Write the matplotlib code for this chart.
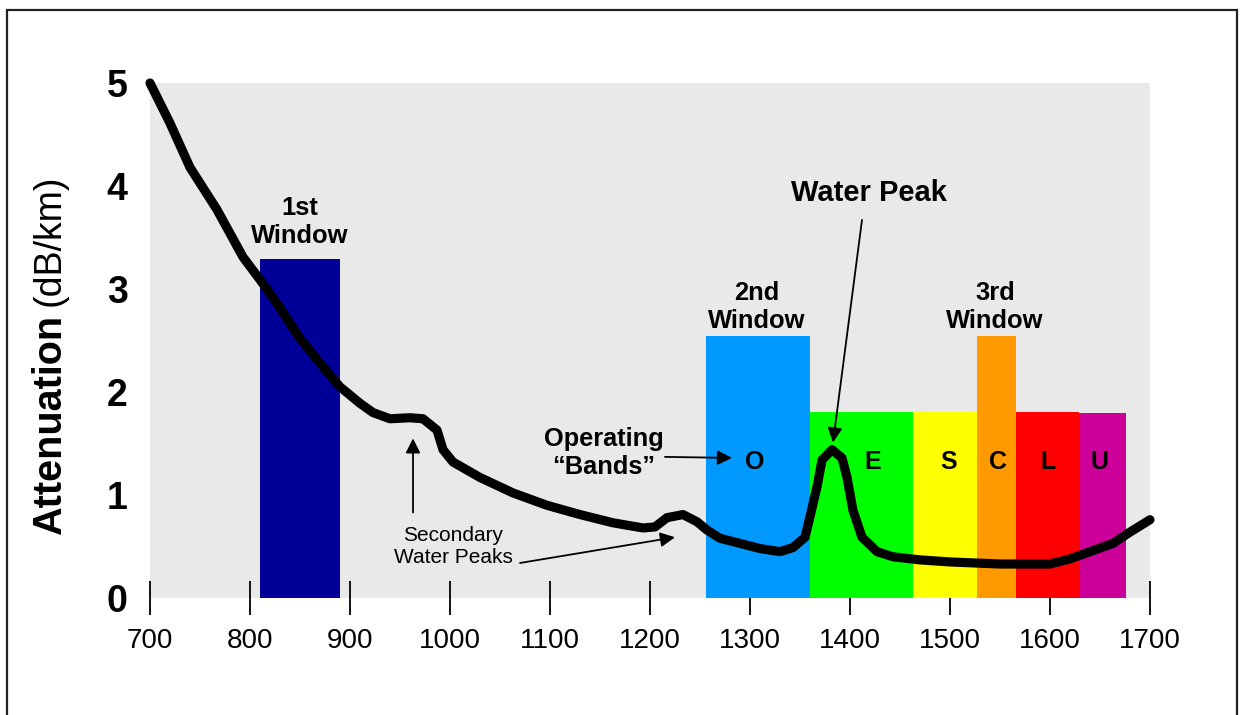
import matplotlib
matplotlib.use("Agg")
import matplotlib.pyplot as plt
from matplotlib.patches import Rectangle

plt.rcParams['font.family'] = ['Liberation Sans', 'DejaVu Sans']

# 光纤衰减曲线 (nm, dB/km)
wavelength = [700, 720, 740, 767, 793, 810, 827, 850, 870, 890, 910, 923, 940, 960, 973,
              987, 993, 1003, 1030, 1063, 1097, 1130, 1163, 1193, 1205, 1217, 1233, 1247,
              1257, 1270, 1290, 1310, 1330, 1343, 1355, 1360, 1367, 1372, 1382, 1392, 1397,
              1403, 1412, 1427, 1443, 1470, 1500, 1550, 1600, 1620, 1663, 1680, 1700]
attenuation = [5.00, 4.61, 4.18, 3.77, 3.31, 3.09, 2.86, 2.52, 2.28, 2.05, 1.89, 1.80, 1.74,
               1.75, 1.74, 1.63, 1.44, 1.32, 1.17, 1.02, 0.90, 0.81, 0.73, 0.68, 0.69, 0.78,
               0.81, 0.74, 0.66, 0.58, 0.53, 0.48, 0.45, 0.49, 0.59, 0.79, 1.08, 1.34, 1.44,
               1.36, 1.17, 0.85, 0.59, 0.45, 0.40, 0.37, 0.35, 0.33, 0.33, 0.38, 0.53, 0.64,
               0.76]

# 第一窗口
window1_start = 810
window1_end = 890
window1_height = 3.29

# 工作波段
band_letters = ['O', 'E', 'S', 'C', 'L', 'U']
band_edges = [1256, 1360, 1463, 1527, 1566, 1629, 1676]
band_heights = [2.54, 1.81, 1.81, 2.54, 1.81, 1.80]
band_colors = ['#0099ff', '#00ff00', '#ffff00', '#ff9900', '#ff0000', '#cc0099']
letter_x = [1305, 1423, 1499, 1548, 1598, 1650]
letter_y = 1.32

x_ticks = [700, 800, 900, 1000, 1100, 1200, 1300, 1400, 1500, 1600, 1700]
y_ticks = [0, 1, 2, 3, 4, 5]

W, H = 1243, 715
fig = plt.figure(figsize=(W / 100, H / 100), dpi=100)
fig.patch.set_facecolor('white')
ax = fig.add_axes([150 / W, 117 / H, 1000 / W, 515 / H])
ax.set_facecolor('#e9e9e9')
for s in ax.spines.values():
    s.set_visible(False)
ax.set_xlim(700, 1700)
ax.set_ylim(0, 5)

# 画柱
ax.bar(window1_start, window1_height, width=window1_end - window1_start,
       align='edge', color='#000099', zorder=2)
widths = [band_edges[i + 1] - band_edges[i] for i in range(len(band_letters))]
ax.bar(band_edges[:-1], band_heights, width=widths, align='edge',
       color=band_colors, zorder=2)
for i in range(len(band_letters)):
    ax.text(letter_x[i], letter_y, band_letters[i], ha='center', va='center',
            fontsize=18, fontweight='bold', zorder=4)

# 曲线
ax.plot(wavelength, attenuation, color='black', lw=6.6, solid_capstyle='round',
        solid_joinstyle='round', zorder=3, clip_on=False)

# 坐标轴
ax.set_xticks(x_ticks)
ax.set_xticklabels([str(v) for v in x_ticks], fontsize=20)
ax.tick_params(axis='x', direction='inout', length=24.5, width=1.3, pad=9.5)
ax.set_yticks(y_ticks)
ax.set_yticklabels([str(v) for v in y_ticks], fontsize=27, fontweight='bold')
ax.tick_params(axis='y', which='major', length=0, pad=16)
ax.set_yticks([1, 2, 3, 4], minor=True)
ax.tick_params(axis='y', which='minor', direction='inout', length=14.4, width=1.3)

fig.text(50 / W, 1 - 535 / H, 'Attenuation', rotation=90, ha='center', va='bottom',
         fontsize=28.5, fontweight='bold')
fig.text(50 / W, 1 - 306 / H, '(dB/km)', rotation=90, ha='center', va='bottom',
         fontsize=27)

# 标注
ax.text(850, 3.40, '1st\nWindow', ha='center', va='bottom', fontsize=18.4,
        fontweight='bold', zorder=4)
ax.text(1307, 2.57, '2nd\nWindow', ha='center', va='bottom', fontsize=18.4,
        fontweight='bold', zorder=4)
ax.text(1545, 2.57, '3rd\nWindow', ha='center', va='bottom', fontsize=18.4,
        fontweight='bold', zorder=4)
ax.text(1419, 3.93, 'Water Peak', ha='center', va='center', fontsize=21,
        fontweight='bold', zorder=4)
ax.text(1154, 1.41, 'Operating\n\u201cBands\u201d', ha='center', va='center',
        fontsize=18.3, fontweight='bold', zorder=4)
ax.text(1003, 0.50, 'Secondary\nWater Peaks', ha='center', va='center',
        fontsize=15, zorder=4)

arrow = dict(arrowstyle='-|>', mutation_scale=22, lw=1.3, color='black',
             shrinkA=0, shrinkB=0)
ax.annotate('', xy=(1383, 1.51), xytext=(1412, 3.67), arrowprops=arrow, zorder=5)
ax.annotate('', xy=(1282, 1.36), xytext=(1215, 1.37), arrowprops=arrow, zorder=5)
ax.annotate('', xy=(963, 1.55), xytext=(963, 0.83), arrowprops=arrow, zorder=5)
ax.annotate('', xy=(1225, 0.59), xytext=(1070, 0.34), arrowprops=arrow, zorder=5)

# 外框
fig.patches.append(Rectangle((7 / W, -0.05), (1237 - 7) / W, 1.05 - 10 / H,
                             transform=fig.transFigure, fill=False, lw=1.6,
                             ec='#222222'))

fig.savefig('out.png', dpi=100)
